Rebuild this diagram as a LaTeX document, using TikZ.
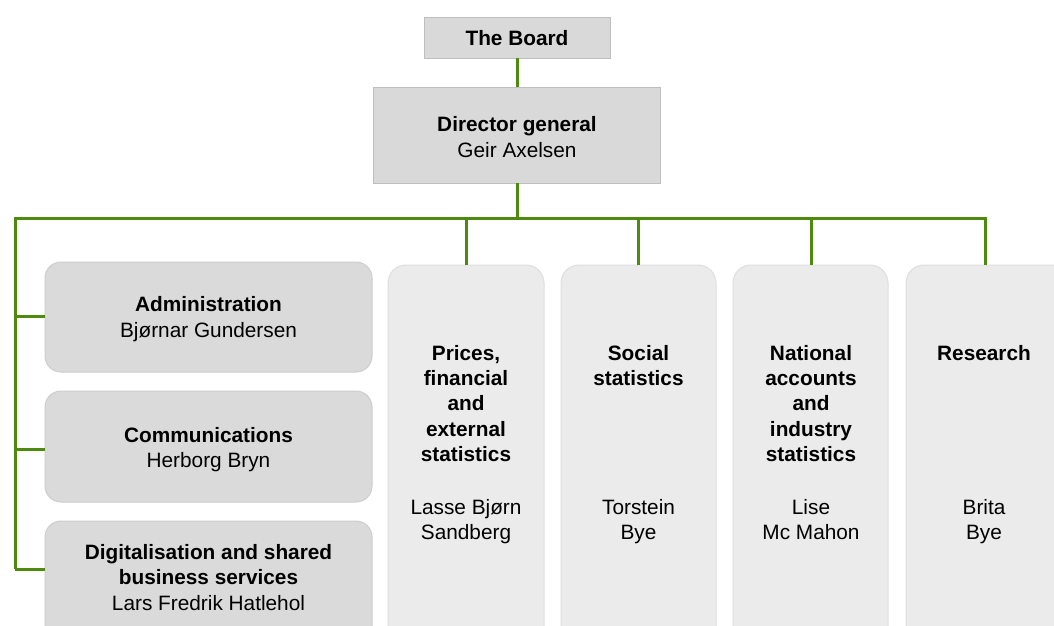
\documentclass[tikz,border=0pt]{standalone}
\usepackage{fontspec}
\setmainfont{Liberation Sans}
\definecolor{linegreen}{RGB}{78,138,14}
\definecolor{topfill}{RGB}{217,217,217}
\definecolor{topdraw}{RGB}{190,190,190}
\definecolor{leftfill}{RGB}{218,218,218}
\definecolor{leftdraw}{RGB}{205,205,205}
\definecolor{colfill}{RGB}{235,235,235}
\definecolor{coldraw}{RGB}{222,222,222}
\begin{document}
\begin{tikzpicture}[x=1pt,y=-1pt,
  txt/.style={font=\fontsize{20.8}{25.3}\selectfont, align=center, text=black},
  topbox/.style={draw=topdraw, fill=topfill, line width=1pt},
  leftbox/.style={draw=leftdraw, fill=leftfill, line width=1pt, rounded corners=16pt},
  colbox/.style={draw=coldraw, fill=colfill, line width=1pt, rounded corners=18pt},
  conn/.style={draw=linegreen, line width=3pt}]
\useasboundingbox (0,0) rectangle (1054,625);
\begin{scope}
\clip (0,0) rectangle (1054,625);
% top boxes
\draw[topbox] (424,17) rectangle (610,58);
\node[txt, inner sep=0pt] (board) at (517,38) {\textbf{The Board}};
\coordinate (boardS) at (517,58);
\draw[topbox] (373,87) rectangle (660,183);
\node[txt, inner sep=0pt] (dir) at (517,137) {\textbf{Director general}\\Geir Axelsen};
\coordinate (dirN) at (517,87);
\coordinate (dirS) at (517,183);
% left boxes
\draw[leftbox] (45,262) rectangle (372,372);
\node[txt, inner sep=0pt] (adm) at (208.5,319) {\textbf{Administration}\\Bjørnar Gundersen};
\draw[leftbox] (45,391) rectangle (372,502);
\node[txt, inner sep=0pt] (com) at (208.5,449.5) {\textbf{Communications}\\Herborg Bryn};
\draw[leftbox] (45,521) rectangle (372,660);
\node[txt, inner sep=0pt] (dig) at (208.5,577.5) {\textbf{Digitalisation and shared}\\\textbf{business services}\\Lars Fredrik Hatlehol};
% column boxes
\draw[colbox] (388,265) rectangle (544,680);
\draw[colbox] (561,265) rectangle (716,680);
\draw[colbox] (733,265) rectangle (888,680);
\draw[colbox] (906,265) rectangle (1070,680);
\node[txt, inner sep=0pt, anchor=north] (pri) at (466,345) {\textbf{Prices,}\\\textbf{financial}\\\textbf{and}\\\textbf{external}\\\textbf{statistics}};
\node[txt, inner sep=0pt, anchor=north] (pripn) at (466,499) {Lasse Bjørn\\Sandberg};
\node[txt, inner sep=0pt, anchor=north] (soc) at (638.5,345) {\textbf{Social}\\\textbf{statistics}};
\node[txt, inner sep=0pt, anchor=north] (socpn) at (638.5,499) {Torstein\\Bye};
\node[txt, inner sep=0pt, anchor=north] (nat) at (811,345) {\textbf{National}\\\textbf{accounts}\\\textbf{and}\\\textbf{industry}\\\textbf{statistics}};
\node[txt, inner sep=0pt, anchor=north] (natpn) at (811,499) {Lise\\Mc Mahon};
\node[txt, inner sep=0pt, anchor=north] (res) at (984,345) {\textbf{Research}};
\node[txt, inner sep=0pt, anchor=north] (respn) at (984,499) {Brita\\Bye};
% connectors
\coordinate (hl) at (15,218);
\coordinate (hr) at (985,218);
\coordinate (hm) at (517,218);
\draw[conn] (boardS) -- (dirN);
\draw[conn] (dirS) -- (hm);
\draw[conn, line cap=rect] (hl) -- (hr);
\draw[conn] (15,218) -- (15,569);
\draw[conn] (15,316) -- (45,316);
\draw[conn] (15,449) -- (45,449);
\draw[conn] (15,569) -- (45,569);
\draw[conn] (466,218) -- (466,265);
\draw[conn] (638.5,218) -- (638.5,265);
\draw[conn] (811,218) -- (811,265);
\draw[conn] (hr) -- (985,265);
\end{scope}
\end{tikzpicture}
\end{document}
